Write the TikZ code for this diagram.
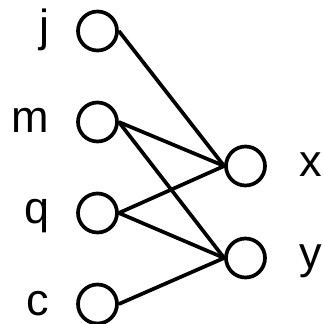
\documentclass[tikz,border=0pt]{standalone}
\usepackage{fontspec}
\setsansfont{Liberation Sans}
\usepackage{tikz}
\usetikzlibrary{positioning}
\tikzset{every picture/.style={/utils/exec={\sffamily}}}

\begin{document}
\begin{tikzpicture}[x=1pt, y=1pt, line width=3.7pt,
    vertex/.style={circle, draw, minimum size=39pt, inner sep=0pt},
    vlabel/.style={inner sep=0pt, font=\fontsize{45}{54}\selectfont}]
        \useasboundingbox (0, 0) rectangle (322, 324);
        % Nodes
        \node[vertex] (j) at (97.5, 293) {};
        \node[vertex] (m) at (97.5, 202) {};
        \node[vertex] (q) at (97.5, 111) {};
        \node[vertex] (c) at (97.5, 20) {};
        \node[vertex] (x) at (245.5, 158) {};
        \node[vertex] (y) at (245.5, 66) {};

        % Labels
        \node[vlabel, left=25pt of j, anchor=base east, yshift=-11pt] (jlabel) {j};
        \node[vlabel, left=25pt of m, anchor=base east, yshift=-11pt] (mlabel) {m};
        \node[vlabel, left=25pt of q, anchor=base east, yshift=-11pt] (qlabel) {q};
        \node[vlabel, left=25pt of c, anchor=base east, yshift=-11pt] (clabel) {c};
        \node[vlabel, right=31pt of x, anchor=base west, yshift=-11pt] (xlabel) {x};
        \node[vlabel, right=31pt of y, anchor=base west, yshift=-11pt] (ylabel) {y};

        % Edges
        \draw (j.east) -- (x.west);
        \draw (m.east) -- (x.west);
        \draw (m.east) -- (y.west);
        \draw (q.east) -- (x.west);
        \draw (q.east) -- (y.west);
        \draw (c.east) -- (y.west);
    \end{tikzpicture}
\end{document}
